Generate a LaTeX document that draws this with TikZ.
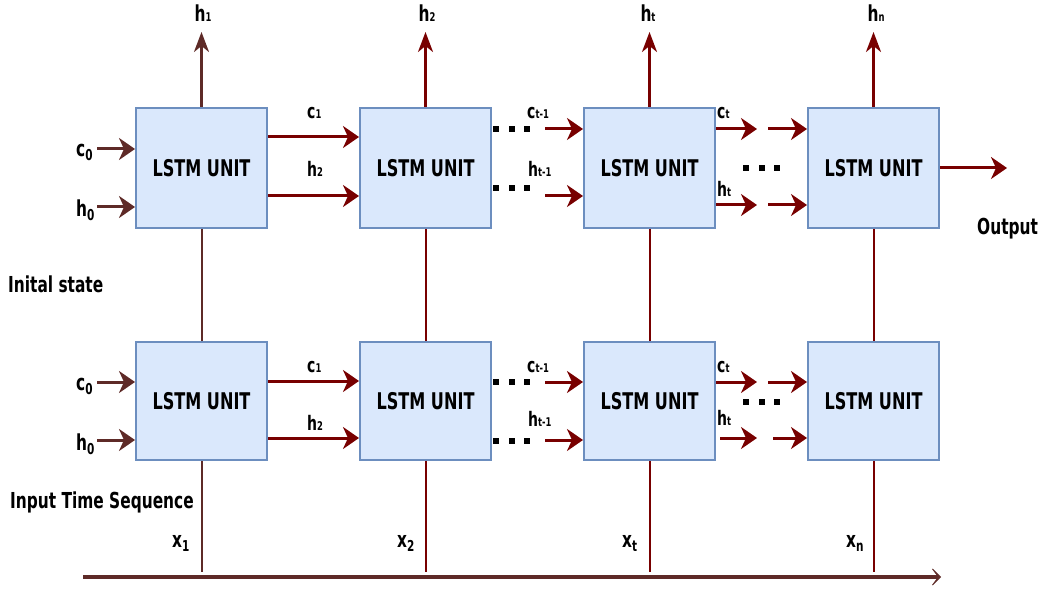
\documentclass[tikz,border=0pt]{standalone}
\usepackage{fontspec}
\setmainfont{DejaVu Sans}[FakeStretch=0.7]
\usetikzlibrary{arrows.meta, positioning}
\definecolor{cellfill}{HTML}{DAE8FC}
\definecolor{cellline}{HTML}{6C8EBF}
\definecolor{wine}{HTML}{780000}
\definecolor{umber}{HTML}{5E2A27}
\newcommand{\fsz}[1]{\fontsize{#1}{#1}\selectfont}
\newcommand{\subb}[2]{#1{\fsz{12}#2}}
\newcommand{\subl}[3]{#1\raisebox{-#3pt}{\fsz{15}#2}}
\newcommand{\dotrow}{\rule{6pt}{6pt}\hspace{9.5pt}\rule{6pt}{6pt}\hspace{9.5pt}\rule{6pt}{6pt}}

\begin{document}
\begin{tikzpicture}[x=1pt, y=-1pt,
    >={Stealth[length=16pt, width=22pt, inset=5pt]},
    cell/.style ={draw=cellline, fill=cellfill, line width=2pt,
                  minimum width=131pt, minimum height=120pt,
                  font=\bfseries\fsz{23}},
    txt/.style  ={font=\bfseries\fsz{22}, inner sep=0pt, anchor=base west},
    stxt/.style ={font=\bfseries\fsz{20}, inner sep=0pt, anchor=base west},
    dotsq/.style={inner sep=0pt},
    flow/.style ={->, line width=3pt, wine},
    seed/.style ={->, line width=3pt, umber},
    wire/.style ={line width=2pt, wine},
    up/.style   ={-{Stealth[length=20pt, width=15pt, inset=6pt]}, line width=2.5pt, wine},
]
\useasboundingbox (0,0) rectangle (1043,593);
% upper layer
\node[cell] (t1) at (201.5,168) {LSTM UNIT};
\node[cell, right=91pt of t1] (t2) {LSTM UNIT};
\node[cell, right=91pt of t2] (t3) {LSTM UNIT};
\node[cell, right=91pt of t3] (t4) {LSTM UNIT};
% lower layer
\node[cell, minimum height=118pt, below=112pt of t1] (b1) {LSTM UNIT};
\node[cell, minimum height=118pt, right=91pt of b1] (b2) {LSTM UNIT};
\node[cell, minimum height=118pt, right=91pt of b2] (b3) {LSTM UNIT};
\node[cell, minimum height=118pt, right=91pt of b3] (b4) {LSTM UNIT};

% hidden outputs on top
\node[txt, anchor=base] (h1) at (203,22) {\subb{h}{1}};
\node[txt, anchor=base] (h2) at (427,22) {\subb{h}{2}};
\node[txt, anchor=base] (ht) at (648,22) {\subb{h}{t}};
\node[txt, anchor=base] (hn) at (876,22) {\subb{h}{n}};
\coordinate (htop) at (0,32);
\draw[up, umber] (t1.north) -- (t1.north |- htop);
\draw[up] (t2.north) -- (t2.north |- htop);
\draw[up] (t3.north) -- (t3.north |- htop);
\draw[up] (t4.north) -- (t4.north |- htop);

% layer links
\draw[wire, umber] (t1.south) -- (b1.north);
\draw[wire] (t2.south) -- (b2.north);
\draw[wire] (t3.south) -- (b3.north);
\draw[wire] (t4.south) -- (b4.north);

% initial state, upper
\node[txt] (c0t) at (76,157) {\subl{c}{0}{4}};
\node[txt] (h0t) at (76,217) {\subl{h}{0}{4}};
\coordinate (c0a) at (97,149);
\coordinate (h0a) at (97,207);
\draw[seed] (c0a) -- (c0a -| t1.west);
\draw[seed] (h0a) -- (h0a -| t1.west);
\node[stxt] (c1t) at (307,119) {\subb{c}{1}};
\node[stxt] (h2t) at (307,177) {\subb{h}{2}};
\draw[flow] ([yshift=-30pt]t1.north east) -- ([yshift=-30pt]t2.north west);
\draw[flow] ([yshift=-89pt]t1.north east) -- ([yshift=-89pt]t2.north west);
\node[dotsq] (dct) at (511.5,129.5) {\dotrow};
\node[dotsq] (dht) at (511.5,188.5) {\dotrow};
\node[stxt] (cpt) at (527,119) {\subb{c}{t-1}};
\node[stxt] (hpt) at (528,177) {\subb{h}{t-1}};
\coordinate (cpa) at (545,129);
\coordinate (hpa) at (545,196);
\draw[flow] (cpa) -- (cpa -| t3.west);
\draw[flow] (hpa) -- (hpa -| t3.west);
\node[stxt] (ctt) at (717,119) {\subb{c}{t}};
\node[stxt] (htt) at (717,197) {\subb{h}{t}};
\coordinate (ctA) at (757,129);
\coordinate (ctB) at (768,129);
\coordinate (htA) at (757,205);
\coordinate (htB) at (768,205);
\draw[flow] (ctA -| t3.east) -- (ctA);
\draw[flow] (ctB) -- (ctB -| t4.west);
\draw[flow] (htA -| t3.east) -- (htA);
\draw[flow] (htB) -- (htB -| t4.west);
\node[dotsq] (dmt) at (761.5,168.5) {\dotrow};
\coordinate (out) at (1007,168);
\draw[flow] (t4.east) -- (out);
\node[txt] (outl) at (977,235) {Output};

% initial state, lower
\node[txt] (c0b) at (76,390) {\subl{c}{0}{4}};
\node[txt] (h0b) at (76,450) {\subl{h}{0}{4}};
\coordinate (c0c) at (97,382);
\coordinate (h0c) at (97,440);
\draw[seed] (c0c) -- (c0c -| b1.west);
\draw[seed] (h0c) -- (h0c -| b1.west);
\node[stxt] (c1b) at (307,372) {\subb{c}{1}};
\node[stxt] (h2b) at (307,430) {\subb{h}{2}};
\draw[flow] ([yshift=-40pt]b1.north east) -- ([yshift=-40pt]b2.north west);
\draw[flow] ([yshift=-97pt]b1.north east) -- ([yshift=-97pt]b2.north west);
\node[dotsq] (dcb) at (511.5,381.5) {\dotrow};
\node[dotsq] (dhb) at (511.5,440.5) {\dotrow};
\node[stxt] (cpb) at (527,372) {\subb{c}{t-1}};
\node[stxt] (hpb) at (528,426) {\subb{h}{t-1}};
\coordinate (cpc) at (545,382);
\coordinate (hpc) at (545,440);
\draw[flow] (cpc) -- (cpc -| b3.west);
\draw[flow] (hpc) -- (hpc -| b3.west);
\node[stxt] (ctb) at (717,372) {\subb{c}{t}};
\node[stxt] (htb) at (717,425) {\subb{h}{t}};
\coordinate (ctC) at (757,382);
\coordinate (ctD) at (768,382);
\coordinate (htC) at (757,438);
\coordinate (htD) at (773,438);
\draw[flow] (ctC -| b3.east) -- (ctC);
\draw[flow] (ctD) -- (ctD -| b4.west);
\draw[flow] ([xshift=4pt]htC -| b3.east) -- (htC);
\draw[flow] (htD) -- (htD -| b4.west);
\node[dotsq] (dmb) at (761.5,401.5) {\dotrow};

\node[txt] (init) at (8,293) {Inital state};
\node[txt] (seq) at (10,508) {Input Time Sequence};

% input sequence
\coordinate (ax0) at (83,577);
\coordinate (ax1) at (941,577);
\coordinate (xbase) at (0,572);
\draw[umber, line width=3.5pt, -{Stealth[length=12pt, width=24pt, inset=9pt]}] (ax0) -- (ax1);
\draw[wire, umber] (b1.south) -- (b1.south |- xbase);
\draw[wire] (b2.south) -- (b2.south |- xbase);
\draw[wire] (b3.south) -- (b3.south |- xbase);
\draw[wire] (b4.south) -- (b4.south |- xbase);
\node[txt] (x1) at (172,547) {\subl{x}{1}{4}};
\node[txt] (x2) at (397,547) {\subl{x}{2}{4}};
\node[txt] (xt) at (622,547) {\subl{x}{t}{4}};
\node[txt] (xn) at (846,547) {\subl{x}{n}{4}};
\end{tikzpicture}
\end{document}
